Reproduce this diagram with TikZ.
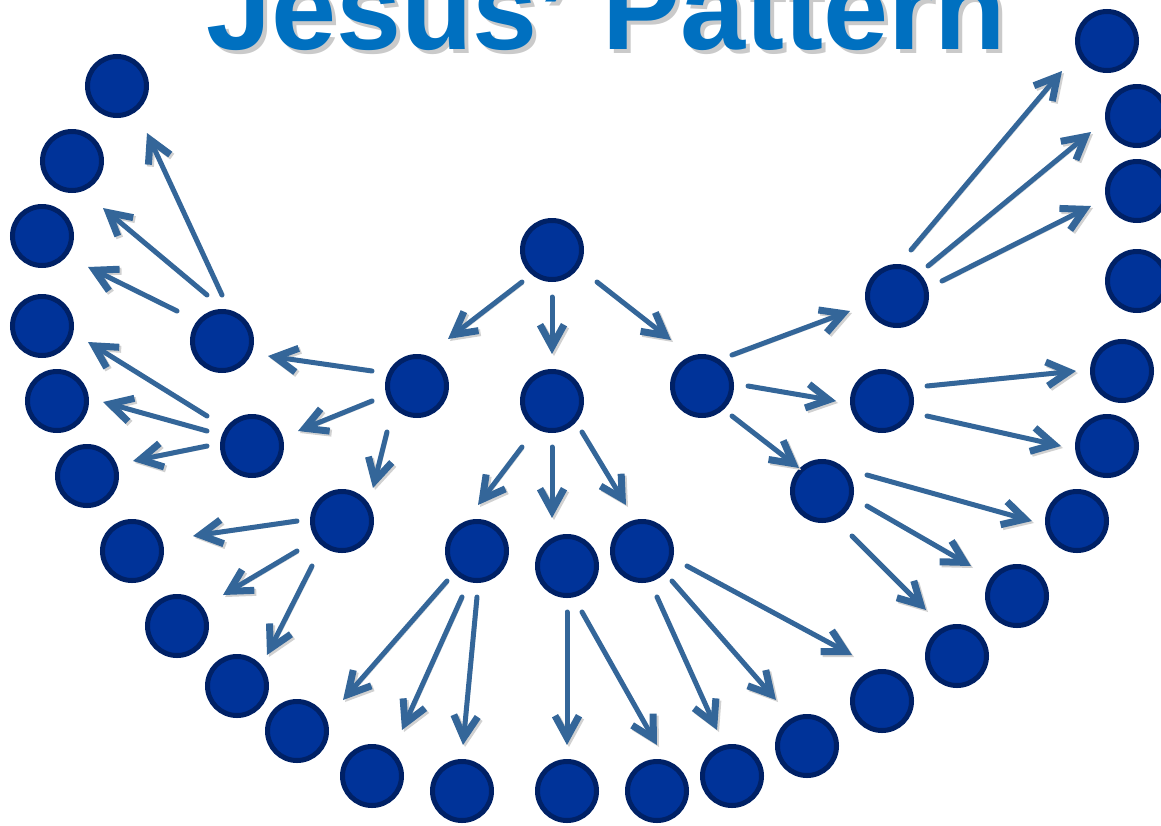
\documentclass[tikz,border=0pt]{standalone}
\usepackage{fontspec}
\setmainfont{Liberation Sans}
\usepackage{tikz}
\usetikzlibrary{arrows.meta,calc}

\definecolor{dotfill}{RGB}{0,51,153}
\definecolor{dotline}{RGB}{0,33,102}
\definecolor{arrowblue}{RGB}{52,102,153}
\definecolor{titleblue}{RGB}{0,112,192}

\begin{document}
\begin{tikzpicture}[x=1pt, y=-1pt,
    dot/.style={circle, draw=dotline, fill=dotfill, line width=5pt, minimum size=59pt, inner sep=0pt},
    arrow/.style={-{Straight Barb[length=22pt, width=24pt, line width=2pt 1]}, line width=5pt, draw=arrowblue, line cap=round,
        preaction={draw=black!18, transform canvas={shift={(2pt,-2pt)}}}},
    heading/.style={anchor=base west, inner sep=0pt, font=\fontsize{117}{117}\selectfont\bfseries}
]
    \useasboundingbox (0,0) rectangle (1161,825);
    \clip (0,0) rectangle (1161,825);

    % title (cut off at the top)
    \node[heading, text=black!35, opacity=0.6] (shadow) at (210,53) {Jesus' Pattern};
    \node[heading, text=titleblue] (title) at (206,49) {Jesus' Pattern};

    % first three levels
    \node[dot] (top) at (552,250) {};
    \node[dot] (lft) at (417,386) {};
    \node[dot] (mid) at (552,401) {};
    \node[dot] (rgt) at (702,386) {};

    \node[dot] (l1) at (222,341) {};
    \node[dot] (l2) at (252,446) {};
    \node[dot] (l3) at (342,521) {};
    \node[dot] (m1) at (477,551) {};
    \node[dot] (m2) at (567,566) {};
    \node[dot] (m3) at (642,551) {};
    \node[dot] (r1) at (897,296) {};
    \node[dot] (r2) at (882,401) {};
    \node[dot] (r3) at (822,491) {};

    % outer ring, from top left round to top right
    \node[dot] (o1) at (117,86) {};
    \node[dot] (o2) at (72,161) {};
    \node[dot] (o3) at (42,236) {};
    \node[dot] (o4) at (42,326) {};
    \node[dot] (o5) at (57,401) {};
    \node[dot] (o6) at (87,476) {};
    \node[dot] (o7) at (132,551) {};
    \node[dot] (o8) at (177,626) {};
    \node[dot] (o9) at (237,686) {};
    \node[dot] (o10) at (297,731) {};
    \node[dot] (o11) at (372,776) {};
    \node[dot] (o12) at (462,791) {};
    \node[dot] (o13) at (567,791) {};
    \node[dot] (o14) at (657,791) {};
    \node[dot] (o15) at (732,776) {};
    \node[dot] (o16) at (807,746) {};
    \node[dot] (o17) at (882,701) {};
    \node[dot] (o18) at (957,656) {};
    \node[dot] (o19) at (1017,596) {};
    \node[dot] (o20) at (1077,521) {};
    \node[dot] (o21) at (1107,446) {};
    \node[dot] (o22) at (1122,371) {};
    \node[dot] (o23) at (1137,281) {};
    \node[dot] (o24) at (1137,191) {};
    \node[dot] (o25) at (1137,116) {};
    \node[dot] (o26) at (1107,41) {};

    % top to second level
    \draw[arrow] ($(top)+(-30,32)$) -- ($(lft)+(31,-47)$);
    \draw[arrow] ($(top)+(0,47)$) -- ($(mid)+(0,-47)$);
    \draw[arrow] ($(top)+(45,32)$) -- ($(rgt)+(-31,-46)$);

    % second to third level
    \draw[arrow] ($(lft)+(-45,-15)$) -- ($(l1)+(46,15)$);
    \draw[arrow] ($(lft)+(-45,15)$) -- ($(l2)+(46,-15)$);
    \draw[arrow] ($(lft)+(-30,46)$) -- ($(l3)+(31,-33)$);
    \draw[arrow] ($(mid)+(-30,46)$) -- ($(m1)+(1,-46)$);
    \draw[arrow] ($(mid)+(0,46)$) -- ($(m2)+(-15,-48)$);
    \draw[arrow] ($(mid)+(30,31)$) -- ($(m3)+(-16,-46)$);
    \draw[arrow] ($(rgt)+(30,-31)$) -- ($(r1)+(-47,15)$);
    \draw[arrow] ($(rgt)+(46,0)$) -- ($(r2)+(-46,0)$);
    \draw[arrow] ($(rgt)+(30,30)$) -- ($(r3)+(-23,-23)$);

    % third level to outer ring
    \draw[arrow] ($(l1)+(0,-46)$) -- ($(o1)+(30,47)$);
    \draw[arrow] ($(l1)+(-15,-46)$) -- ($(o2)+(31,47)$);
    \draw[arrow] ($(l1)+(-45,-30)$) -- ($(o3)+(46,31)$);
    \draw[arrow] ($(l2)+(-45,-30)$) -- ($(o4)+(46,16)$);
    \draw[arrow] ($(l2)+(-45,-15)$) -- ($(o5)+(46,1)$);
    \draw[arrow] ($(l2)+(-45,0)$) -- ($(o6)+(46,-15)$);
    \draw[arrow] ($(l3)+(-45,0)$) -- ($(o7)+(61,-15)$);
    \draw[arrow] ($(l3)+(-45,30)$) -- ($(o8)+(46,-31)$);
    \draw[arrow] ($(l3)+(-30,45)$) -- ($(o9)+(30,-31)$);
    \draw[arrow] ($(m1)+(-30,30)$) -- ($(o10)+(46,-31)$);
    \draw[arrow] ($(m1)+(-15,46)$) -- ($(o11)+(30,-46)$);
    \draw[arrow] ($(m1)+(0,46)$) -- ($(o12)+(1,-46)$);
    \draw[arrow] ($(m2)+(0,46)$) -- ($(o13)+(0,-46)$);
    \draw[arrow] ($(m2)+(15,46)$) -- ($(o14)+(0,-46)$);
    \draw[arrow] ($(m3)+(15,46)$) -- ($(o15)+(-15,-46)$);
    \draw[arrow] ($(m3)+(30,30)$) -- ($(o16)+(-31,-46)$);
    \draw[arrow] ($(m3)+(45,15)$) -- ($(o17)+(-30,-46)$);
    \draw[arrow] ($(r3)+(30,45)$) -- ($(o18)+(-31,-46)$);
    \draw[arrow] ($(r3)+(45,15)$) -- ($(o19)+(-46,-30)$);
    \draw[arrow] ($(r3)+(45,-16)$) -- ($(o20)+(-45,0)$);
    \draw[arrow] ($(r2)+(45,15)$) -- ($(o21)+(-46,0)$);
    \draw[arrow] ($(r2)+(45,-15)$) -- ($(o22)+(-46,0)$);
    \draw[arrow] ($(r1)+(45,-15)$) -- ($(o24)+(-46,15)$);
    \draw[arrow] ($(r1)+(31,-30)$) -- ($(o25)+(-46,16)$);
    \draw[arrow] ($(r1)+(14,-46)$) -- ($(o26)+(-45,30)$);
\end{tikzpicture}
\end{document}
